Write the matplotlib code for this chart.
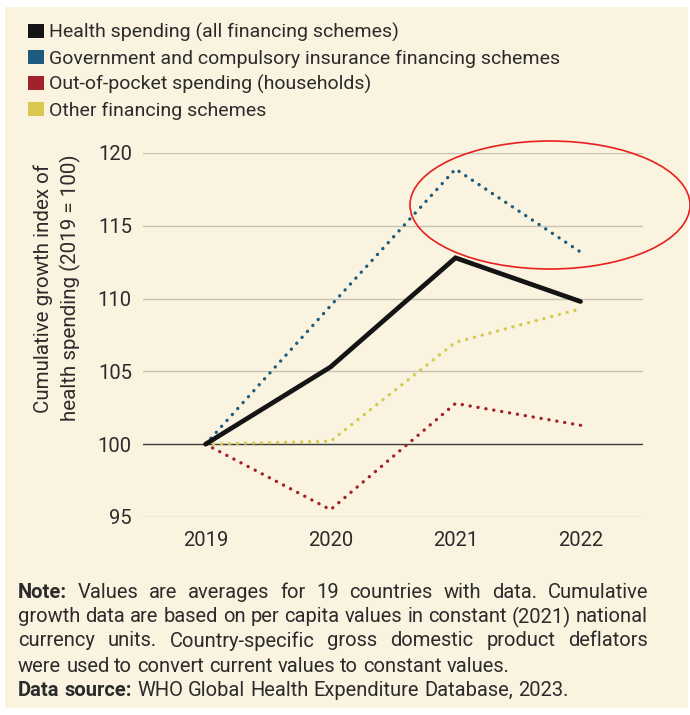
import matplotlib
matplotlib.use("Agg")
import matplotlib.pyplot as plt
from matplotlib.patches import Rectangle, Ellipse, Patch

# Data
years = [2019, 2020, 2021, 2022]
total = [100.0, 105.3, 112.8, 109.8]
government = [100.0, 109.5, 118.9, 113.2]
out_of_pocket = [100.0, 95.5, 102.8, 101.3]
other = [100.0, 100.2, 107.0, 109.3]
series_labels = [
    "Health spending (all financing schemes)",
    "Government and compulsory insurance financing schemes",
    "Out-of-pocket spending (households)",
    "Other financing schemes",
]
y_ticks = [95, 100, 105, 110, 115, 120]

BG = "#faf3e0"
TXT = "#2b2b2b"
C_BLACK = "#141414"
C_BLUE = "#1d5c7e"
C_RED = "#a3212b"
C_YEL = "#d8c850"

plt.rcParams["font.family"] = ["Roboto", "DejaVu Sans"]

W, H = 690, 715
fig = plt.figure(figsize=(W / 100, H / 100), dpi=100)
fig.patch.set_facecolor("white")
fig.patches.append(Rectangle((5 / W, 1 - 708 / H), 683 / W, 701 / H,
                             transform=fig.transFigure, facecolor=BG,
                             edgecolor="none", zorder=-10))

ax = fig.add_axes([143 / W, 1 - 517 / H, 500 / W, 364 / H])
ax.set_facecolor("none")
ax.set_xlim(2018.5, 2022.5)
ax.set_ylim(95, 120)
for s in ax.spines.values():
    s.set_visible(False)
ax.tick_params(length=0, labelsize=14.5, colors=TXT, pad=8)
ax.tick_params(axis="x", pad=10)
ax.set_xticks(years)
ax.set_xticklabels([str(y) for y in years])
ax.set_yticks(y_ticks)
for t in y_ticks:
    if t == 100:
        ax.axhline(t, color="#3a3a3a", lw=1.0, zorder=1)
    else:
        ax.axhline(t, color="#c9c2b3", lw=1.0, zorder=1)

dot = (0, (0.05, 2.35))
kw = dict(lw=2.4, linestyle=dot, dash_capstyle="round", zorder=3, clip_on=False)
ax.plot(years, other, color=C_YEL, **kw)
ax.plot(years, out_of_pocket, color=C_RED, **kw)
ax.plot(years, government, color=C_BLUE, **kw)
ax.plot(years, total, color=C_BLACK, lw=3.4, solid_joinstyle="miter",
        solid_capstyle="round", zorder=4, clip_on=False)

fig.text(57 / W, 1 - 288 / H, "Cumulative growth index of\nhealth spending (2019 = 100)",
         rotation=90, ha="center", va="center", fontsize=14.8, color=TXT, linespacing=1.4)

# Legend
handles = [Patch(facecolor=c, edgecolor="none") for c in (C_BLACK, C_BLUE, C_RED, C_YEL)]
fig.legend(handles, series_labels, loc="upper left", bbox_to_anchor=(28 / W, 1 - 23 / H),
           frameon=False, fontsize=14, handlelength=0.8, handleheight=0.72,
           handletextpad=0.3, labelspacing=0.38, borderpad=0, borderaxespad=0,
           labelcolor=TXT)

# Highlight ellipse
fig.patches.append(Ellipse((550 / W, 1 - 205 / H), 280 / W, 128 / H,
                           transform=fig.transFigure, facecolor="none",
                           edgecolor="#e8201e", lw=1.2, zorder=10))

# Footnote, justified between x0 and x1 (pixels)
fs = 14.5
x0, x1 = 18, 648
r = fig.canvas.get_renderer()


def word_width(word, bold):
    t = fig.text(0, 0, word, fontsize=fs, fontweight="bold" if bold else "normal")
    w = t.get_window_extent(r).width
    t.remove()
    return w


def draw_line(y, tokens, justify):
    widths = [word_width(w, b) for w, b in tokens]
    space = word_width("a a", False) - 2 * word_width("a", False)
    if justify and len(tokens) > 1:
        space = (x1 - x0 - sum(widths)) / (len(tokens) - 1)
    x = x0
    for (w, b), wd in zip(tokens, widths):
        fig.text(x / W, 1 - y / H, w, fontsize=fs, color=TXT, va="center",
                 fontweight="bold" if b else "normal")
        x += wd + space


def tok(s, bold_words=0):
    ws = s.split(" ")
    return [(w, i < bold_words) for i, w in enumerate(ws)]


draw_line(592, tok("Note: Values are averages for 19 countries with data. Cumulative", 1), True)
draw_line(617, tok("growth data are based on per capita values in constant (2021) national"), True)
draw_line(641, tok("currency units. Country-specific gross domestic product deflators"), True)
draw_line(666, tok("were used to convert current values to constant values."), False)
draw_line(690, tok("Data source: WHO Global Health Expenditure Database, 2023.", 2), False)

fig.savefig("out.png", dpi=100, facecolor="white")
